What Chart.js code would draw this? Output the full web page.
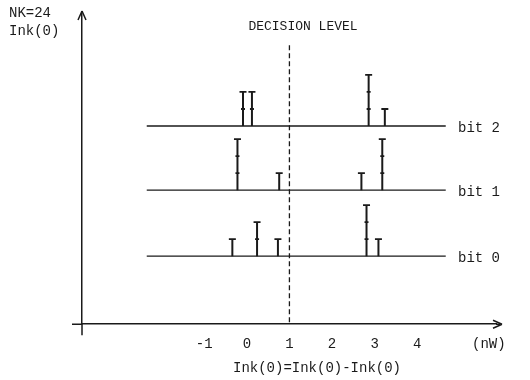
<!DOCTYPE html>
<html>
<head>
<meta charset="utf-8">
<script src="https://cdn.jsdelivr.net/npm/chart.js@4/dist/chart.umd.min.js"></script>
<style>
  html, body { margin: 0; padding: 0; background: #fff; }
  #wrap { width: 530px; height: 380px; }
</style>
</head>
<body>
<div id="wrap"><canvas id="histChart"></canvas></div>
<script>
// tick labels of the x axis (nW)
const xTicks = [-1, 0, 1, 2, 3, 4];
// baseline level of each bit row (in count units above the x axis)
const bitNames = ['bit 0', 'bit 1', 'bit 2'];
const bitBase = [4.0, 7.88, 11.65];
// histogram stems: position (nW) and count
const bit0Pos = [-0.34, 0.24, 0.73, 2.81, 3.09];
const bit0Cnt = [1, 2, 1, 3, 1];
const bit1Pos = [-0.22, 0.76, 2.69, 3.18];
const bit1Cnt = [3, 1, 1, 3];
const bit2Pos = [-0.09, 0.12, 2.86, 3.24];
const bit2Cnt = [2, 2, 3, 1];
// extent of the row baselines and the decision level
const rowStart = -2.35;
const rowEnd = 4.67;
const decisionLevel = 1;
const decisionTop = 16.4;

const ink = '#1a1a1a';
const monoFont = '"Liberation Mono", "DejaVu Sans Mono", monospace';

function stemPoints(base, pos, cnt) {
    var pts = [];
    for (var i = 0; i < pos.length; i++) {
        for (var k = 0; k <= cnt[i]; k++) {
            pts.push({ x: pos[i], y: base + k, mark: k == 0 ? 0 : (k == cnt[i] ? 3.5 : 2) });
        }
        pts.push({ x: pos[i], y: null });
    }
    return pts;
}

const datasets = [];
const allPos = [bit0Pos, bit1Pos, bit2Pos];
const allCnt = [bit0Cnt, bit1Cnt, bit2Cnt];

for (var b = 0; b < 3; b++) {
    datasets.push({
        label: bitNames[b] + ' baseline',
        data: [{ x: rowStart, y: bitBase[b] }, { x: rowEnd, y: bitBase[b] }],
        borderColor: ink,
        borderWidth: 1.4,
        pointRadius: 0,
        showLine: true
    });
    datasets.push({
        label: bitNames[b],
        data: stemPoints(bitBase[b], allPos[b], allCnt[b]),
        borderColor: ink,
        backgroundColor: ink,
        borderWidth: 2,
        showLine: true,
        spanGaps: false,
        pointStyle: 'line',
        pointBorderWidth: 1.8,
        pointRadius: function(ctx) {
            var r = ctx.raw;
            return r && r.mark ? r.mark : 0;
        }
    });
}

datasets.push({
    label: 'decision level',
    data: [{ x: decisionLevel, y: decisionTop }, { x: decisionLevel, y: 0 }],
    borderColor: ink,
    borderWidth: 1.3,
    borderDash: [5, 3],
    pointRadius: 0,
    showLine: true
});

// arrows, axis overhang and the free texts of the figure
const decorPlugin = {
    id: 'decor',
    afterDraw: function(chart) {
        const c = chart.ctx;
        const a = chart.chartArea;
        c.save();
        c.strokeStyle = ink;
        c.fillStyle = ink;
        c.lineWidth = 1.5;
        // axis overhang
        c.beginPath();
        c.moveTo(a.left, a.bottom);
        c.lineTo(a.left, a.bottom + 11);
        c.moveTo(a.left, a.bottom);
        c.lineTo(a.left - 10, a.bottom);
        c.moveTo(a.right, a.bottom);
        c.lineTo(a.right + 4, a.bottom);
        c.stroke();
        // arrow heads
        c.beginPath();
        c.moveTo(a.left, a.top - 1);
        c.lineTo(a.left - 4, a.top + 8);
        c.moveTo(a.left, a.top - 1);
        c.lineTo(a.left + 4, a.top + 8);
        c.moveTo(a.right + 6, a.bottom);
        c.lineTo(a.right - 3, a.bottom - 4);
        c.moveTo(a.right + 6, a.bottom);
        c.lineTo(a.right - 3, a.bottom + 4);
        c.stroke();

        c.font = '14px ' + monoFont;
        c.textBaseline = 'middle';
        c.textAlign = 'left';
        c.fillText('NK=24', 9, 13);
        c.fillText('Ink(0)', 9, 31);
        for (var b = 0; b < 3; b++) {
            c.fillText(bitNames[b], 458, chart.scales.y.getPixelForValue(bitBase[b]) + 2);
        }
        c.fillText('(nW)', 472, 344);
        c.textAlign = 'center';
        c.fillText('Ink(0)=Ink(0)-Ink(0)', 317, 368);
        c.font = '13px ' + monoFont;
        c.fillText('DECISION LEVEL', 303, 27);
        c.restore();
    }
};

const ctx = document.getElementById('histChart').getContext('2d');
new Chart(ctx, {
    type: 'scatter',
    data: { datasets: datasets },
    options: {
        responsive: true,
        maintainAspectRatio: false,
        animation: false,
        layout: { padding: { left: 74, right: 34, top: 12, bottom: 19 } },
        plugins: {
            legend: { display: false },
            tooltip: { enabled: false }
        },
        scales: {
            x: {
                type: 'linear',
                min: -3.87,
                max: 5.85,
                afterBuildTicks: function(scale) {
                    scale.ticks = xTicks.map(function(v) { return { value: v }; });
                },
                grid: { display: true, drawOnChartArea: false, tickLength: 4, tickColor: 'rgba(0,0,0,0)' },
                border: { display: true, color: ink, width: 1.5 },
                ticks: {
                    color: ink,
                    padding: 8,
                    font: { family: monoFont, size: 14 },
                    maxRotation: 0,
                    autoSkip: false
                }
            },
            y: {
                type: 'linear',
                min: 0,
                max: 18.35,
                grid: { display: false },
                border: { display: true, color: ink, width: 1.5 },
                ticks: { display: false }
            }
        }
    },
    plugins: [decorPlugin]
});
</script>
</body>
</html>
